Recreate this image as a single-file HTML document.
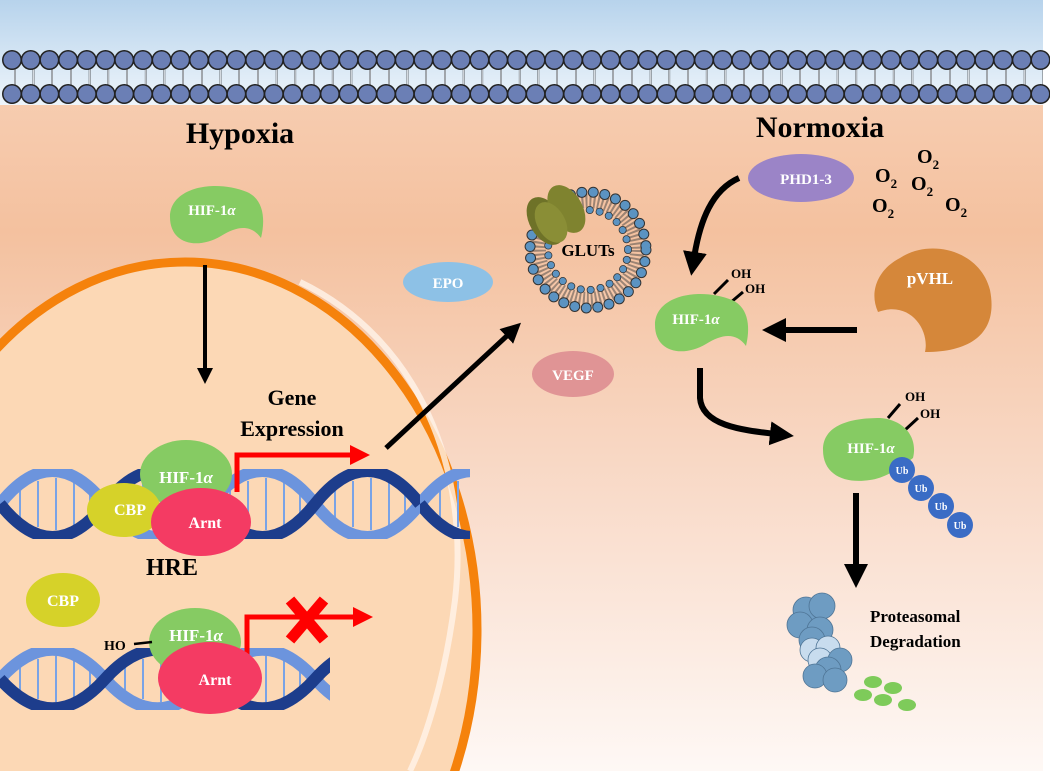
<!DOCTYPE html>
<html><head><meta charset="utf-8"><style>
html,body{margin:0;padding:0;background:#fff;width:1050px;height:771px;overflow:hidden}
svg{display:block}
text{font-family:"Liberation Serif",serif;font-weight:bold}
</style></head><body>
<svg width="1050" height="771" viewBox="0 0 1050 771" xmlns="http://www.w3.org/2000/svg">
<defs>
<linearGradient id="sky" x1="0" y1="0" x2="0" y2="1">
<stop offset="0" stop-color="#b7d3ec"/><stop offset="1" stop-color="#eef5fb"/></linearGradient>
<linearGradient id="cyto" x1="0" y1="0" x2="0" y2="1">
<stop offset="0" stop-color="#f9d5bd"/><stop offset="0.3" stop-color="#f4c19f"/><stop offset="0.65" stop-color="#f9dccb"/><stop offset="1" stop-color="#fef8f5"/></linearGradient>
<pattern id="dnaA" x="0" y="469" width="210" height="70" patternUnits="userSpaceOnUse">
<g stroke="#79a3e6" stroke-width="2">
<line x1="20" y1="22" x2="20" y2="48"/><line x1="38" y1="12" x2="38" y2="58"/><line x1="56" y1="9" x2="56" y2="61"/><line x1="74" y1="12" x2="74" y2="58"/><line x1="90" y1="22" x2="90" y2="48"/>
<line x1="125" y1="22" x2="125" y2="48"/><line x1="143" y1="12" x2="143" y2="58"/><line x1="161" y1="9" x2="161" y2="61"/><line x1="179" y1="12" x2="179" y2="58"/><line x1="195" y1="22" x2="195" y2="48"/></g>
<path d="M0,35 C35,-9 70,-9 105,35 C140,79 175,79 210,35" fill="none" stroke="#6c94dd" stroke-width="12"/>
<path d="M0,35 C35,79 70,79 105,35 C140,-9 175,-9 210,35" fill="none" stroke="#1d3d8c" stroke-width="12"/>
</pattern>
<pattern id="dnaB" x="0" y="648" width="210" height="62" patternUnits="userSpaceOnUse">
<g stroke="#79a3e6" stroke-width="2">
<line x1="20" y1="20" x2="20" y2="42"/><line x1="38" y1="11" x2="38" y2="51"/><line x1="56" y1="8" x2="56" y2="54"/><line x1="74" y1="11" x2="74" y2="51"/><line x1="90" y1="20" x2="90" y2="42"/>
<line x1="125" y1="20" x2="125" y2="42"/><line x1="143" y1="11" x2="143" y2="51"/><line x1="161" y1="8" x2="161" y2="54"/><line x1="179" y1="11" x2="179" y2="51"/><line x1="195" y1="20" x2="195" y2="42"/></g>
<path d="M0,31 C35,-8 70,-8 105,31 C140,70 175,70 210,31" fill="none" stroke="#6c94dd" stroke-width="12"/>
<path d="M0,31 C35,70 70,70 105,31 C140,-8 175,-8 210,31" fill="none" stroke="#1d3d8c" stroke-width="12"/>
</pattern>
<marker id="ah" markerWidth="4" markerHeight="4" refX="1" refY="2" orient="auto" markerUnits="strokeWidth">
<path d="M0,0 L4,2 L0,4 Z" fill="#000"/></marker>
<marker id="rh" markerWidth="4" markerHeight="4" refX="1" refY="2" orient="auto" markerUnits="strokeWidth">
<path d="M0,0 L4,2 L0,4 Z" fill="#f00"/></marker>
<path id="hif" d="M-45,5 C-45,-25 0,-33 32,-20 C50,-12 50,10 46,26 C36,12 22,14 6,24 C-18,38 -45,32 -45,5 Z"/>
</defs>

<rect width="1050" height="771" fill="url(#cyto)"/>
<rect width="1050" height="105" fill="url(#sky)"/>
<rect x="1043" y="0" width="7" height="771" fill="#fff"/>

<!-- membrane -->
<g stroke="#222" stroke-dasharray="1.6 17.1" stroke-dashoffset="-14">
<line x1="0" y1="77" x2="1043" y2="77" stroke-width="16"/>
</g>
<g stroke="#e8eef6" stroke-dasharray="0.9 17.8" stroke-dashoffset="-14.35">
<line x1="0" y1="77" x2="1043" y2="77" stroke-width="16"/>
</g>
<g fill="none">
<line x1="12" y1="60" x2="1043" y2="60" stroke="#222" stroke-width="20" stroke-linecap="round" stroke-dasharray="0 18.7"/>
<line x1="12" y1="60" x2="1043" y2="60" stroke="#6b7fb5" stroke-width="17" stroke-linecap="round" stroke-dasharray="0 18.7"/>
<line x1="12" y1="94" x2="1043" y2="94" stroke="#222" stroke-width="20" stroke-linecap="round" stroke-dasharray="0 18.7"/>
<line x1="12" y1="94" x2="1043" y2="94" stroke="#6b7fb5" stroke-width="17" stroke-linecap="round" stroke-dasharray="0 18.7"/>
</g>

<text x="240" y="143" font-size="30" text-anchor="middle">Hypoxia</text>
<text x="820" y="137" font-size="30" text-anchor="middle">Normoxia</text>

<!-- nucleus -->
<ellipse cx="185" cy="630" rx="292" ry="368" fill="#fcd8b5" stroke="#f5820c" stroke-width="9"/>
<path d="M300,282 C420,340 470,470 455,600 C445,680 425,740 410,771" fill="none" stroke="#fff4ea" stroke-width="6" opacity="0.8"/>

<!-- hypoxia HIF -->
<use href="#hif" transform="translate(215,212)" fill="#86cb63"/>
<text x="212" y="215" font-size="15" fill="#fff" text-anchor="middle">HIF-1<tspan font-style="italic">α</tspan></text>
<line x1="205" y1="265" x2="205" y2="372" stroke="#000" stroke-width="4" marker-end="url(#ah)"/>

<text x="292" y="405" font-size="22" text-anchor="middle">Gene</text>
<text x="292" y="436" font-size="22" text-anchor="middle">Expression</text>
<line x1="386" y1="448" x2="510" y2="333" stroke="#000" stroke-width="5" marker-end="url(#ah)"/>

<!-- DNA -->
<rect x="0" y="469" width="470" height="70" fill="url(#dnaA)"/>
<rect x="0" y="648" width="330" height="62" fill="url(#dnaB)"/>

<!-- upper complex -->
<polyline points="237,492 237,455 355,455" fill="none" stroke="#f00" stroke-width="5" marker-end="url(#rh)"/>
<ellipse cx="186" cy="474" rx="46" ry="34" fill="#86cb63"/>
<ellipse cx="124" cy="510" rx="37" ry="27" fill="#d6d229"/>
<ellipse cx="201" cy="522" rx="50" ry="34" fill="#f43b63"/>
<text x="186" y="483" font-size="17" fill="#fff" text-anchor="middle">HIF-1<tspan font-style="italic">α</tspan></text>
<text x="130" y="515" font-size="16" fill="#fff" text-anchor="middle">CBP</text>
<text x="205" y="528" font-size="16" fill="#fff" text-anchor="middle">Arnt</text>
<text x="172" y="575" font-size="24" text-anchor="middle">HRE</text>

<ellipse cx="63" cy="600" rx="37" ry="27" fill="#d6d229"/>
<text x="63" y="606" font-size="16" fill="#fff" text-anchor="middle">CBP</text>

<!-- lower complex -->
<polyline points="247,680 247,617 358,617" fill="none" stroke="#f00" stroke-width="5" marker-end="url(#rh)"/>
<ellipse cx="195" cy="642" rx="46" ry="34" fill="#86cb63"/>
<ellipse cx="210" cy="678" rx="52" ry="36" fill="#f43b63"/>
<text x="196" y="641" font-size="17" fill="#fff" text-anchor="middle">HIF-1<tspan font-style="italic">α</tspan></text>
<text x="215" y="685" font-size="16" fill="#fff" text-anchor="middle">Arnt</text>
<text x="104" y="650" font-size="14">HO</text>
<line x1="134" y1="644" x2="152" y2="642" stroke="#000" stroke-width="2.5"/>
<g stroke="#f00" stroke-width="11"><line x1="290" y1="600" x2="324" y2="640"/><line x1="324" y1="600" x2="290" y2="640"/></g>

<!-- EPO / VEGF -->
<ellipse cx="448" cy="282" rx="45" ry="20" fill="#8dc1e6"/>
<text x="448" y="288" font-size="15" fill="#fff" text-anchor="middle">EPO</text>
<ellipse cx="573" cy="374" rx="41" ry="23" fill="#e09495"/>
<text x="573" y="380" font-size="15" fill="#fff" text-anchor="middle">VEGF</text>

<!-- GLUT vesicle -->
<circle cx="588" cy="250" r="49" fill="none" stroke="#444" stroke-width="14" stroke-dasharray="2 2" opacity="0.5"/>
<circle cx="588" cy="250" r="58" fill="none" stroke="#333" stroke-width="11" stroke-linecap="round" stroke-dasharray="0 11.6"/>
<circle cx="588" cy="250" r="58" fill="none" stroke="#5b93c2" stroke-width="9" stroke-linecap="round" stroke-dasharray="0 11.6"/>
<circle cx="588" cy="250" r="40" fill="none" stroke="#333" stroke-width="8" stroke-linecap="round" stroke-dasharray="0 10"/>
<circle cx="588" cy="250" r="40" fill="none" stroke="#5b93c2" stroke-width="6.5" stroke-linecap="round" stroke-dasharray="0 10"/>
<text x="588" y="256" font-size="17" text-anchor="middle">GLUTs</text>
<g transform="translate(556,215) rotate(-30)">
<ellipse cx="-12" cy="0" rx="16" ry="26" fill="#6e7228"/>
<ellipse cx="12" cy="0" rx="16" ry="26" fill="#7f832f"/>
<ellipse cx="-8" cy="4" rx="14" ry="22" fill="#8a8e36"/>
</g>

<!-- PHD / O2 -->
<ellipse cx="801" cy="178" rx="53" ry="24" fill="#9b84c7"/>
<text x="806" y="184" font-size="15" fill="#fff" text-anchor="middle">PHD1-3</text>
<g font-size="20">
<text x="917" y="163">O<tspan font-size="13" dy="6">2</tspan></text>
<text x="875" y="182">O<tspan font-size="13" dy="6">2</tspan></text>
<text x="911" y="190">O<tspan font-size="13" dy="6">2</tspan></text>
<text x="872" y="212">O<tspan font-size="13" dy="6">2</tspan></text>
<text x="945" y="211">O<tspan font-size="13" dy="6">2</tspan></text>
</g>
<path d="M739,178 C712,190 700,220 694,258" fill="none" stroke="#000" stroke-width="6" marker-end="url(#ah)"/>

<!-- pVHL -->
<path d="M900,258 C930,238 980,250 990,290 C998,330 975,352 925,352 C930,330 910,300 878,312 C868,290 880,268 900,258 Z" fill="#d5873a"/>
<text x="930" y="284" font-size="17" fill="#fff" text-anchor="middle">pVHL</text>
<line x1="857" y1="330" x2="780" y2="330" stroke="#000" stroke-width="6" marker-end="url(#ah)"/>

<!-- HIF normoxia -->
<line x1="714" y1="294" x2="728" y2="280" stroke="#000" stroke-width="3"/>
<line x1="730" y1="303" x2="743" y2="292" stroke="#000" stroke-width="3"/>
<text x="731" y="278" font-size="13">OH</text>
<text x="745" y="293" font-size="13">OH</text>
<use href="#hif" transform="translate(700,320)" fill="#86cb63"/>
<text x="696" y="324" font-size="15" fill="#fff" text-anchor="middle">HIF-1<tspan font-style="italic">α</tspan></text>
<path d="M700,368 L700,398 C702,425 740,430 776,434" fill="none" stroke="#000" stroke-width="6" marker-end="url(#ah)"/>

<!-- HIF ub -->
<line x1="888" y1="418" x2="900" y2="404" stroke="#000" stroke-width="3"/>
<line x1="905" y1="430" x2="918" y2="418" stroke="#000" stroke-width="3"/>
<text x="905" y="401" font-size="13">OH</text>
<text x="920" y="418" font-size="13">OH</text>
<path d="M823,450 C823,425 850,418 880,418 C905,420 918,438 913,458 C900,468 885,478 870,480 C845,484 823,475 823,450 Z" fill="#86cb63"/>
<text x="871" y="453" font-size="15" fill="#fff" text-anchor="middle">HIF-1<tspan font-style="italic">α</tspan></text>
<g fill="#3a6cc5">
<circle cx="902" cy="470" r="13"/><circle cx="921" cy="488" r="13"/><circle cx="941" cy="506" r="13"/><circle cx="960" cy="525" r="13"/></g>
<g font-size="10" fill="#fff" text-anchor="middle">
<text x="902" y="474">Ub</text><text x="921" y="492">Ub</text><text x="941" y="510">Ub</text><text x="960" y="529">Ub</text></g>
<line x1="856" y1="493" x2="856" y2="570" stroke="#000" stroke-width="6" marker-end="url(#ah)"/>

<!-- proteasome -->
<g stroke="#4f7596" stroke-width="0.8">
<g fill="#6e9cc2">
<circle cx="806" cy="610" r="13"/><circle cx="822" cy="606" r="13"/><circle cx="800" cy="625" r="13"/><circle cx="820" cy="630" r="13"/><circle cx="812" cy="640" r="13"/></g>
<g fill="#c8dcee">
<circle cx="812" cy="650" r="12"/><circle cx="828" cy="648" r="12"/><circle cx="820" cy="660" r="12"/></g>
<g fill="#6e9cc2">
<circle cx="840" cy="660" r="12"/><circle cx="828" cy="670" r="13"/><circle cx="815" cy="676" r="12"/><circle cx="835" cy="680" r="12"/></g>
</g>
<g fill="#7ecb5a">
<ellipse cx="873" cy="682" rx="9" ry="6"/><ellipse cx="893" cy="688" rx="9" ry="6"/><ellipse cx="863" cy="695" rx="9" ry="6"/><ellipse cx="883" cy="700" rx="9" ry="6"/><ellipse cx="907" cy="705" rx="9" ry="6"/></g>
<text x="870" y="622" font-size="17">Proteasomal</text>
<text x="870" y="647" font-size="17">Degradation</text>
</svg>
</body></html>
